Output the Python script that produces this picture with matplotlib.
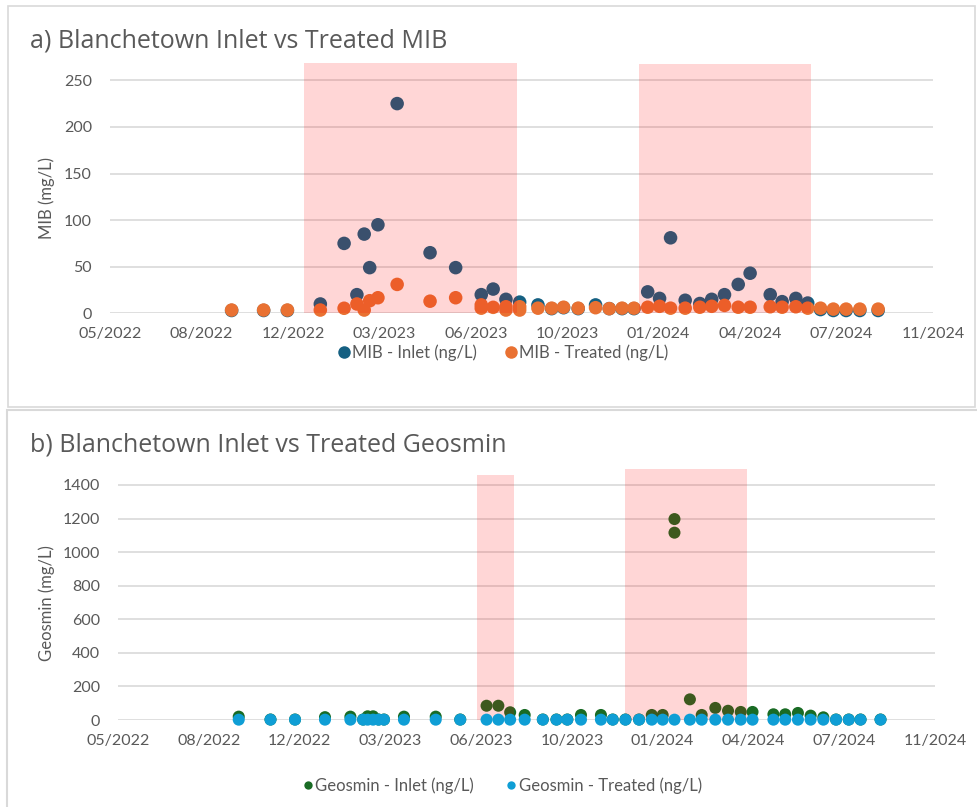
import matplotlib
matplotlib.use('Agg')
import matplotlib.pyplot as plt
import matplotlib.dates as mdates
import pandas as pd
from matplotlib.patches import Rectangle
from matplotlib.lines import Line2D

plt.rcParams['font.family'] = ['Lato', 'DejaVu Sans']

W, H = 978, 807

# ---------------- data ----------------
x_axis_start = '2022-05-20'
x_axis_days = 900
x_tick_step_days = 100
x_tick_labels = ['05/2022', '08/2022', '12/2022', '03/2023', '06/2023',
                 '10/2023', '01/2024', '04/2024', '07/2024', '11/2024']

mib_inlet_dates = ['2022-09-30', '2022-11-04', '2022-11-30', '2023-01-05', '2023-01-31',
                   '2023-02-14', '2023-02-22', '2023-02-28', '2023-03-09', '2023-03-30',
                   '2023-05-05', '2023-06-02', '2023-06-30', '2023-07-13', '2023-07-27',
                   '2023-08-11', '2023-08-31', '2023-09-15', '2023-09-28', '2023-10-14',
                   '2023-11-02', '2023-11-17', '2023-12-01', '2023-12-14', '2023-12-29',
                   '2024-01-11', '2024-01-23', '2024-02-08', '2024-02-24', '2024-03-08',
                   '2024-03-22', '2024-04-06', '2024-04-19', '2024-05-11', '2024-05-24',
                   '2024-06-08', '2024-06-21', '2024-07-05', '2024-07-19', '2024-08-02',
                   '2024-08-17', '2024-09-06']
mib_inlet = [3, 3, 3, 10, 75,
             20, 85, 49, 95, 225,
             65, 49, 20, 26, 15,
             12, 9, 5, 6, 5,
             9, 5, 5, 5, 23,
             16, 81, 14, 10.5, 15,
             20, 31, 43, 20, 12.5,
             16, 11, 4, 3, 3,
             3, 3]

mib_treated_dates = ['2022-09-30', '2022-11-04', '2022-11-30', '2023-01-05', '2023-01-31',
                     '2023-02-14', '2023-02-22', '2023-02-28', '2023-03-09', '2023-03-30',
                     '2023-05-05', '2023-06-02', '2023-06-30', '2023-06-30', '2023-07-13',
                     '2023-07-27', '2023-07-27', '2023-08-11', '2023-08-11', '2023-08-31',
                     '2023-09-15', '2023-09-28', '2023-10-14', '2023-11-02', '2023-11-17',
                     '2023-12-01', '2023-12-14', '2023-12-29', '2024-01-11', '2024-01-23',
                     '2024-02-08', '2024-02-24', '2024-03-08', '2024-03-22', '2024-04-06',
                     '2024-04-19', '2024-05-11', '2024-05-24', '2024-06-08', '2024-06-21',
                     '2024-07-05', '2024-07-19', '2024-08-02', '2024-08-17', '2024-09-06']
mib_treated = [3.5, 3.5, 3.5, 3.5, 5.4,
               10, 3.5, 13.5, 16.7, 31,
               13, 16.7, 9, 5.5, 6.4,
               7, 3.5, 7, 3.5, 5.5,
               5.5, 6.5, 5.5, 6, 5,
               5.5, 5.5, 6.5, 7.5, 5.5,
               5.5, 6.5, 7.5, 8.5, 6.5,
               6.5, 7, 6.5, 7, 5.5,
               5.5, 4.5, 4.5, 4.5, 4.5]

geo_dates = ['2022-09-30', '2022-11-04', '2022-12-01', '2023-01-03', '2023-01-31',
             '2023-02-14', '2023-02-19', '2023-02-25', '2023-03-03', '2023-03-09',
             '2023-03-31', '2023-05-05', '2023-06-01', '2023-06-30', '2023-07-13',
             '2023-07-26', '2023-08-11', '2023-08-31', '2023-09-15', '2023-09-27',
             '2023-10-12', '2023-11-03', '2023-11-16', '2023-11-30', '2023-12-15',
             '2023-12-29', '2024-01-10', '2024-01-23', '2024-02-09', '2024-02-22',
             '2024-03-08', '2024-03-22', '2024-04-05', '2024-04-18', '2024-05-11',
             '2024-05-24', '2024-06-07', '2024-06-21', '2024-07-05', '2024-07-19',
             '2024-08-02', '2024-08-15', '2024-09-06']
geo_inlet = [20, 3, 3, 17, 20,
             3, 22, 22, 3, 3,
             20, 20, 3, 85, 85,
             46, 30, 3, 3, 3,
             30, 30, 3, 3, 3,
             30, 30, 1116, 123, 30,
             72, 55, 48, 48, 34,
             34, 42, 26, 16, 3,
             3, 3, 3]
geo_inlet_extra_dates = ['2024-01-23']
geo_inlet_extra = [1197]
geo_treated = [2, 2, 2, 2, 2,
               2, 2, 2, 2, 2,
               2, 2, 2, 2, 2,
               2, 2, 2, 2, 2,
               2, 2, 2, 2, 2,
               2, 2, 2, 2, 2,
               2, 2, 2, 2, 2,
               2, 2, 2, 2, 2,
               2, 2, 2]

shade_a_start = ['2022-12-18', '2023-12-20']
shade_a_end = ['2023-08-08', '2024-06-25']
shade_a_top = [269, 267]

shade_b_start = ['2023-06-19', '2023-11-30']
shade_b_end = ['2023-07-30', '2024-04-12']
shade_b_top = [1459, 1495]

# ---------------- style ----------------
C_MIB_IN = '#156082'
C_MIB_TR = '#E97132'
C_GEO_IN = '#196B24'
C_GEO_TR = '#0F9ED5'
C_SHADE = '#FF0000'
SHADE_ALPHA = 0.16
GRID = '#D9D9D9'
TXT = '#595959'
TITLE_FONT = ['Open Sans', 'DejaVu Sans']

fig = plt.figure(figsize=(W / 100, H / 100), dpi=100)


def rect(l, t, r, b):
    return [l / W, 1 - b / H, (r - l) / W, (b - t) / H]


def dn(lst):
    return mdates.date2num(pd.to_datetime(lst))


x0 = mdates.date2num(pd.Timestamp(x_axis_start))
xticks = [x0 + k * x_tick_step_days for k in range(len(x_tick_labels))]


def style_axis(ax, ymax, yticks):
    ax.set_xlim(x0, x0 + x_axis_days)
    ax.set_ylim(0, ymax)
    ax.set_xticks(xticks)
    ax.set_xticklabels(x_tick_labels)
    ax.set_yticks(yticks)
    ax.set_yticklabels([str(v) for v in yticks])
    for s in ax.spines.values():
        s.set_visible(False)
    ax.tick_params(axis='both', length=0, colors=TXT, labelsize=11.5)
    ax.tick_params(axis='y', pad=13)
    ax.tick_params(axis='x', pad=10)
    ax.set_facecolor('none')
    for y in yticks:
        ax.axhline(y, color=GRID, lw=1.2, zorder=0)


# panel frames
fig.patches.append(Rectangle((8 / W, 1 - 407 / H), 967 / W, 401 / H, transform=fig.transFigure,
                             fill=False, edgecolor='#D9D9D9', lw=1.2))
fig.patches.append(Rectangle((7 / W, 1 - 812 / H), 980 / W, 402 / H, transform=fig.transFigure,
                             fill=False, edgecolor='#D9D9D9', lw=1.5))

# ---------------- panel a ----------------
axa = fig.add_axes(rect(110, 313.3 - 270 * 0.932, 933, 313.3))
style_axis(axa, 270, [0, 50, 100, 150, 200, 250])
axa.scatter(dn(mib_inlet_dates), mib_inlet, s=95, color=C_MIB_IN, edgecolors='none', zorder=3, clip_on=False)
axa.scatter(dn(mib_treated_dates), mib_treated, s=95, color=C_MIB_TR, edgecolors='none', zorder=4, clip_on=False)
sa = dn(shade_a_start)
ea = dn(shade_a_end)
axa.bar(sa, shade_a_top, width=ea - sa, bottom=0, align='edge', color=C_SHADE,
        alpha=SHADE_ALPHA, edgecolor='none', zorder=5)

fig.text(30 / W, 1 - 47 / H, 'a) Blanchetown Inlet vs Treated MIB', fontsize=18, color=TXT,
         va='baseline', ha='left', family=TITLE_FONT)
fig.text(47 / W, 1 - 198 / H, 'MIB (mg/L)', rotation=90, fontsize=12, color=TXT,
         va='center', ha='center')

ha = [Line2D([], [], ls='none', marker='o', ms=9, color=C_MIB_IN, markeredgewidth=0),
      Line2D([], [], ls='none', marker='o', ms=9, color=C_MIB_TR, markeredgewidth=0)]
fig.legend(ha, ['MIB - Inlet (ng/L)', 'MIB - Treated (ng/L)'], loc='center',
           bbox_to_anchor=(502 / W, 1 - 353 / H), ncol=2, frameon=False, fontsize=12,
           handletextpad=0.0, columnspacing=1.5, handlelength=1.0, labelcolor=TXT,
           borderpad=0.2)

# ---------------- panel b ----------------
axb = fig.add_axes(rect(118, 720 - 1500 * 0.16786, 935, 720))
style_axis(axb, 1500, [0, 200, 400, 600, 800, 1000, 1200, 1400])
axb.scatter(dn(geo_dates), geo_inlet, s=75, color=C_GEO_IN, edgecolors='none', zorder=3, clip_on=False)
axb.scatter(dn(geo_inlet_extra_dates), geo_inlet_extra, s=75, color=C_GEO_IN, edgecolors='none', zorder=3)
sb = dn(shade_b_start)
eb = dn(shade_b_end)
axb.bar(sb, shade_b_top, width=eb - sb, bottom=0, align='edge', color=C_SHADE,
        alpha=SHADE_ALPHA, edgecolor='none', zorder=4)
axb.scatter(dn(geo_dates), geo_treated, s=75, color=C_GEO_TR, edgecolors='none', zorder=5, clip_on=False)

fig.text(30 / W, 1 - 452 / H, 'b) Blanchetown Inlet vs Treated Geosmin', fontsize=18, color=TXT,
         va='baseline', ha='left', family=TITLE_FONT)
fig.text(47 / W, 1 - 603 / H, 'Geosmin (mg/L)', rotation=90, fontsize=12, color=TXT,
         va='center', ha='center')

hb = [Line2D([], [], ls='none', marker='o', ms=6, color=C_GEO_IN, markeredgewidth=0),
      Line2D([], [], ls='none', marker='o', ms=6, color=C_GEO_TR, markeredgewidth=0)]
fig.legend(hb, ['Geosmin - Inlet (ng/L)', 'Geosmin - Treated (ng/L)'], loc='center',
           bbox_to_anchor=(501 / W, 1 - 786 / H), ncol=2, frameon=False, fontsize=12,
           handletextpad=0.0, columnspacing=1.8, handlelength=0.9, labelcolor=TXT)

fig.savefig('out.png', dpi=100)
